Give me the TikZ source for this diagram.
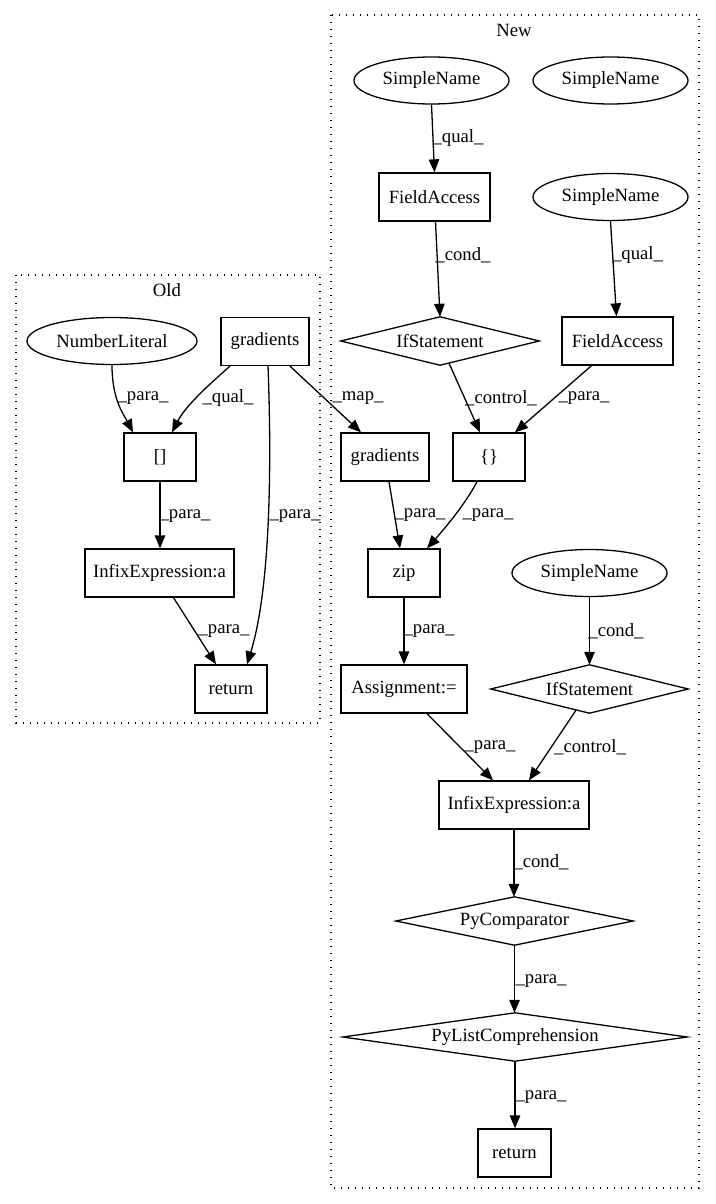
\documentclass[tikz,border=0pt]{standalone}
\usepackage{fontspec}
\setmainfont{Liberation Serif}
\usetikzlibrary{arrows.meta,shapes.geometric}
\begin{document}
\begin{tikzpicture}[x=1pt,y=-1pt,
  font=\fontsize{18.7}{22}\selectfont,
  box/.style={draw, rectangle, minimum height=48pt, inner sep=0pt, line width=1.3pt},
  ell/.style={draw, ellipse, minimum height=47pt, inner sep=0pt, line width=1.3pt},
  dia/.style={rectangle, minimum height=48pt, inner sep=0pt},
  diaLine/.style={draw, line width=1.3pt, line join=miter},
  edge/.style={-{Triangle[length=13pt,width=10.5pt]}, line width=1.3pt},
  lab/.style={inner sep=0pt},
  cluster/.style={draw, dash pattern=on 1.3pt off 5.7pt, line width=1.3pt}]
\useasboundingbox (0,0) rectangle (715,1204);
% clusters
\draw[cluster] (16,275) rectangle (320,723);
\draw[cluster] (331,15) rectangle (699,1188);
\node[lab] (oldlab) at (167,290) {Old};
\node[lab] (newlab) at (514,30) {New};
% Old nodes
\node[ell, minimum width=170pt] (numlit) at (112,341) {NumberLiteral};
\node[box, minimum width=88pt] (gradold) at (265,341.5) {gradients};
\node[box, minimum width=72pt] (idx) at (160,457) {[]};
\node[box, minimum width=149pt] (infixold) at (159.5,573) {InfixExpression:a};
\node[box, minimum width=72pt] (retold) at (231,689) {return};
% New nodes
\node[ell, minimum width=155pt] (sn1) at (431.5,80.5) {SimpleName};
\node[ell, minimum width=155pt] (sn2) at (610.5,80.5) {SimpleName};
\node[box, minimum width=111pt] (fa1) at (434.5,197) {FieldAccess};
\node[ell, minimum width=155pt] (sn3) at (610.5,197) {SimpleName};
\node[dia, minimum width=198pt] (if1) at (440,341) {IfStatement};
\node[box, minimum width=111pt] (fa2) at (617.5,341) {FieldAccess};
\node[box, minimum width=88pt] (gradnew) at (385,457) {gradients};
\node[box, minimum width=72pt] (braces) at (489,457) {\{\}};
\node[box, minimum width=72pt] (zip) at (404,573) {zip};
\node[ell, minimum width=155pt] (sn4) at (589.5,573) {SimpleName};
\node[box, minimum width=126pt] (assign) at (404,689) {Assignment:=};
\node[dia, minimum width=197pt] (if2) at (589.5,689) {IfStatement};
\node[box, minimum width=150pt] (infixnew) at (514,805) {InfixExpression:a};
\node[dia, minimum width=237pt] (pycomp) at (514.5,921) {PyComparator};
\node[dia, minimum width=344pt] (pylist) at (515,1037) {PyListComprehension};
\node[box, minimum width=73pt] (retnew) at (514.5,1153) {return};
% diamonds
\foreach \d in {if1,if2,pycomp,pylist}{
  \draw[diaLine] (\d.north) -- (\d.east) -- (\d.south) -- (\d.west) -- cycle;
}
% Old edges
\draw[edge] (numlit.south) .. controls (112,400) and (124,415) .. ([xshift=-27pt]idx.north);
\draw[edge] ([xshift=-35pt]gradold.south) .. controls (212,382) and (186,405) .. ([xshift=12pt]idx.north);
\draw[edge] ([xshift=3pt]gradold.south) .. controls (272,470) and (270,590) .. ([xshift=16pt]retold.north);
\draw[edge] (idx.south) -- (idx.south |- infixold.north);
\draw[edge] ([xshift=14pt]infixold.south) -- ([xshift=-15pt]retold.north);
\draw[edge] ([xshift=25pt]gradold.south) -- ([xshift=-24pt]gradnew.north);
% New edges
\draw[edge] (sn1.south) -- (fa1.north);
\draw[edge] ([xshift=1pt]fa1.south) -- (if1.north);
\draw[edge] (sn3.south) -- ([xshift=-1pt]fa2.north);
\draw[edge] ([xshift=9pt,yshift=2pt]if1.south) -- ([xshift=-9pt]braces.north);
\draw[edge] ([xshift=-26pt]fa2.south) -- ([xshift=26pt]braces.north);
\draw[edge] ([xshift=4pt]gradnew.south) -- ([xshift=-4pt]zip.north);
\draw[edge] ([xshift=-12pt]braces.south) .. controls (466,503) and (446,527) .. ([xshift=23pt]zip.north);
\draw[edge] (zip.south) -- (assign.north);
\draw[edge] (sn4.south) -- (if2.north);
\draw[edge] ([xshift=23pt]assign.south) -- ([xshift=-21pt]infixnew.north);
\draw[edge] ([xshift=-13.5pt,yshift=3pt]if2.south) -- ([xshift=15pt]infixnew.north);
\draw[edge] (infixnew.south) -- (infixnew.south |- pycomp.north);
\draw[edge] (pycomp.south) -- (pycomp.south |- pylist.north);
\draw[edge] (pylist.south) -- (pylist.south |- retnew.north);
% labels Old
\node[lab] (l1) at (143,398) {\_para\_};
\node[lab] (l2) at (228,398) {\_qual\_};
\node[lab] (l3) at (295,516) {\_para\_};
\node[lab] (l4) at (185,516) {\_para\_};
\node[lab] (l5) at (224,631) {\_para\_};
\node[lab] (l6) at (358,398) {\_map\_};
% labels New
\node[lab] (l7) at (458,138) {\_qual\_};
\node[lab] (l8) at (463,255) {\_cond\_};
\node[lab] (l9) at (637.5,255) {\_qual\_};
\node[lab] (l10) at (501,398) {\_control\_};
\node[lab] (l11) at (584,398) {\_para\_};
\node[lab] (l12) at (420,515) {\_para\_};
\node[lab] (l13) at (488,515) {\_para\_};
\node[lab] (l14) at (429,631) {\_para\_};
\node[lab] (l15) at (616,631) {\_cond\_};
\node[lab] (l16) at (490,747) {\_para\_};
\node[lab] (l17) at (590,747) {\_control\_};
\node[lab] (l18) at (541,862) {\_cond\_};
\node[lab] (l19) at (541,981) {\_para\_};
\node[lab] (l20) at (541,1097) {\_para\_};
\end{tikzpicture}
\end{document}
